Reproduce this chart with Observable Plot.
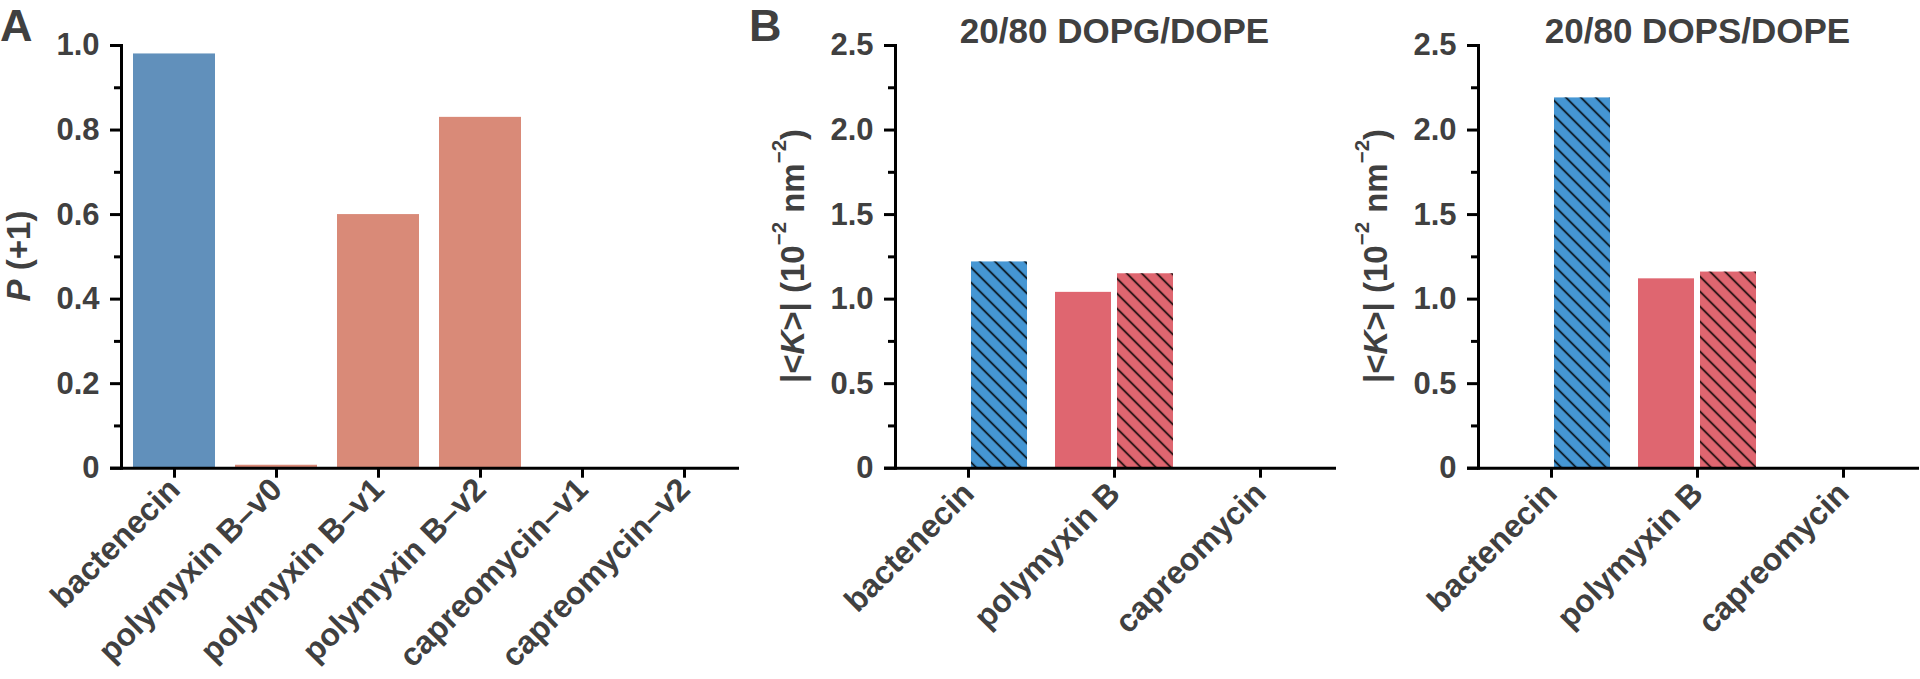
<!DOCTYPE html>
<html>
<head>
<meta charset="utf-8">
<script src="https://cdn.jsdelivr.net/npm/d3@7"></script>
<script src="https://cdn.jsdelivr.net/npm/@observablehq/plot@0.6"></script>
<style>
  body { margin: 0; background: #fff; }
  #wrap { position: relative; width: 1920px; height: 679px; overflow: hidden; background: #fff; }
  .panel { position: absolute; top: 0; }
</style>
</head>
<body>
<svg width="0" height="0" style="position:absolute">
  <defs>
    <pattern id="hatch" patternUnits="userSpaceOnUse" width="10.6" height="10.6" patternTransform="rotate(-45)">
      <line x1="5.3" y1="-1" x2="5.3" y2="11.6" stroke="#000" stroke-width="1.6"></line>
    </pattern>
  </defs>
</svg>
<div id="wrap"></div>
<script>
// ---------- data ----------
const drugsA = ["bactenecin", "polymyxin B–v0", "polymyxin B–v1", "polymyxin B–v2", "capreomycin–v1", "capreomycin–v2"];
const probA = [0.98, 0.007, 0.60, 0.83, 0, 0];
const groupA = ["bactenecin", "other", "other", "other", "other", "other"];
const yTicksA = [0, 0.2, 0.4, 0.6, 0.8, 1.0];
const yMinorA = [0.1, 0.3, 0.5, 0.7, 0.9];

const drugsB = ["bactenecin", "polymyxin B", "capreomycin"];
const dopgSolid = [0, 1.04, 0];
const dopgHatched = [1.22, 1.15, 0];
const dopsSolid = [0, 1.12, 0];
const dopsHatched = [2.19, 1.16, 0];
const yTicksB = [0, 0.5, 1.0, 1.5, 2.0, 2.5];
const yMinorB = [0.25, 0.75, 1.25, 1.75, 2.25];
const titlesB = ["20/80 DOPG/DOPE", "20/80 DOPS/DOPE"];

// ---------- style ----------
const FONT = "'Liberation Sans', Arial, Helvetica, sans-serif";
const TXT = "#404040";
const colorsA = ["#6190BB", "#D98A78"];
const blueB = "#4596D3", redB = "#DF6670";

function baseStyle() {
  return {fontFamily: FONT, fontWeight: "bold", fontSize: "31px", color: TXT, background: "transparent", overflow: "visible"};
}
const fmt = d => d === 0 ? "0" : d.toFixed(1);

function commonAxes(major, minor, xPad) {
  return [
    Plot.frame({anchor: "left", stroke: "black", strokeWidth: 3}),
    Plot.ruleY([0], {stroke: "black", strokeWidth: 3, insetLeft: -11, insetRight: -3}),
    Plot.axisY(major, {tickSize: 11, tickPadding: 11, strokeWidth: 3, stroke: "black", fill: TXT, tickFormat: fmt, label: null, fontSize: 31}),
    Plot.axisY(minor, {tickSize: 7, strokeWidth: 3, stroke: "black", tickFormat: () => "", label: null}),
    Plot.axisX({tickSize: 10, tickRotate: -45, tickPadding: xPad, strokeWidth: 3, stroke: "black", fill: TXT, label: null, fontSize: 32})
  ];
}

function addText(svgEl, x, y, parts, opts) {
  const t = d3.select(svgEl).append("text")
    .attr("fill", TXT).attr("font-family", FONT).attr("font-weight", "bold")
    .attr("font-size", opts.size)
    .attr("text-anchor", opts.anchor || "start");
  if (opts.rotate) t.attr("transform", `translate(${x},${y}) rotate(${opts.rotate})`);
  else t.attr("x", x).attr("y", y);
  if (opts.central) t.attr("dominant-baseline", "central");
  for (const p of parts) {
    const s = t.append("tspan").text(p.t);
    if (p.i) s.attr("font-style", "italic");
    if (p.sup) s.attr("font-size", opts.size * 0.62).attr("dy", -opts.size * 0.42);
    if (p.after) s.attr("dy", opts.size * 0.42);
  }
  return t;
}

const wrap = document.getElementById("wrap");

// ---------- panel A ----------
const dataA = drugsA.map((d, i) => ({drug: d, p: probA[i], grp: groupA[i]}));
const plotA = Plot.plot({
  width: 760, height: 679,
  marginLeft: 121, marginRight: 24, marginTop: 45, marginBottom: 211.3,
  style: baseStyle(),
  x: {type: "band", domain: drugsA, paddingInner: 0.2, paddingOuter: 0.1},
  y: {domain: [0, 1]},
  color: {domain: ["bactenecin", "other"], range: colorsA},
  marks: [
    Plot.barY(dataA, {x: "drug", y: "p", fill: "grp"}),
    ...commonAxes(yTicksA, yMinorA, 6)
  ]
});
plotA.classList.add("panel");
plotA.style.left = "0px";
wrap.appendChild(plotA);
addText(plotA, 0, 41, [{t: "A"}], {size: 45});
addText(plotA, 18, 256, [{t: "P", i: true}, {t: " (+1)"}], {size: 33, anchor: "middle", rotate: -90, central: true});

// ---------- panel B ----------
function panelB(solid, hatched, title, left, width, marginLeft, marginRight) {
  const data = drugsB.map((d, i) => ({drug: d, solid: solid[i], hatched: hatched[i]}));
  const p = Plot.plot({
    width, height: 679,
    marginLeft, marginRight, marginTop: 45, marginBottom: 211.3,
    style: baseStyle(),
    x: {type: "band", domain: drugsB, padding: 0},
    y: {domain: [0, 2.5]},
    color: {domain: drugsB, range: [blueB, redB, redB]},
    marks: [
      Plot.barY(data, {x: "drug", y: "solid", fill: "drug", insetLeft: 45, insetRight: 45, dx: -31}),
      Plot.barY(data, {x: "drug", y: "hatched", fill: "drug", insetLeft: 45, insetRight: 45, dx: 31}),
      Plot.barY(data, {x: "drug", y: "hatched", fill: "url(#hatch)", insetLeft: 45, insetRight: 45, dx: 31}),
      ...commonAxes(yTicksB, yMinorB, 10),
      Plot.text([title], {text: d => d, frameAnchor: "top", lineAnchor: "bottom", dy: -3, fontSize: 35, fill: TXT, fontWeight: "bold"})
    ]
  });
  p.classList.add("panel");
  p.style.left = left + "px";
  wrap.appendChild(p);
  addText(p, marginLeft - 103, 256, [
    {t: "|<"}, {t: "K", i: true}, {t: ">| (10"}, {t: "−2", sup: true}, {t: " nm", after: true}, {t: "−2", sup: true}, {t: ")", after: true}
  ], {size: 33, anchor: "middle", rotate: -90, central: true});
  return p;
}

const pB1 = panelB(dopgSolid, dopgHatched, titlesB[0], 740, 600, 155, 7);
addText(pB1, 9, 41, [{t: "B"}], {size: 45});
const pB2 = panelB(dopsSolid, dopsHatched, titlesB[1], 1340, 580, 138, 4);
</script>
</body>
</html>
